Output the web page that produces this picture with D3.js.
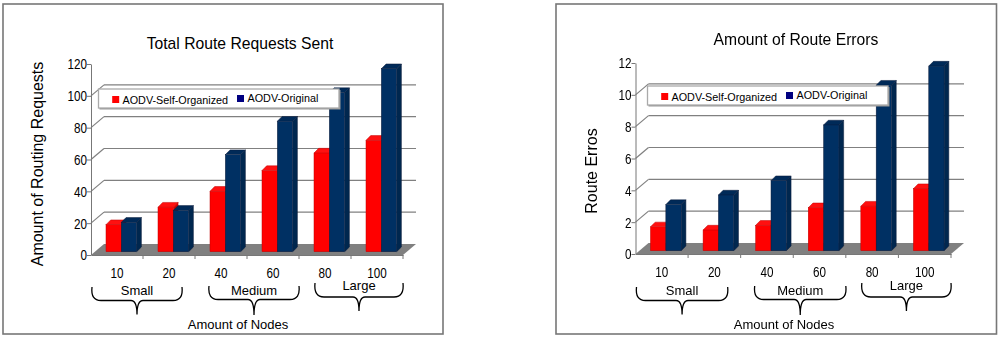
<!DOCTYPE html>
<meta charset="utf-8">
<head>
  <style>
  body { margin: 0; background: #fff; }
  svg { display: block; font-family: "Liberation Sans", sans-serif; filter: blur(0.4px); }
  .axis path, .axis line { stroke: #777; stroke-width: 1; fill: none; }
  .axis text { font-size: 15.5px; fill: #000; font-family: "Liberation Sans", sans-serif; }
  .grid line { stroke: #808080; stroke-width: 1.2; }
  </style>
</head>
<body>
<div id="graph"></div>
<script src="https://d3js.org/d3.v7.min.js"></script>
<script>

var nodeCounts = ["10", "20", "40", "60", "80", "100"];
var seriesNames = ["AODV-Self-Organized", "AODV-Original"];

var requestsSelf = [17, 28, 38, 51, 62, 70];
var requestsOrig = [18.5, 26, 61, 82, 100, 115];
var requestTicks = [0, 20, 40, 60, 80, 100, 120];

var errorsSelf = [1.5, 1.3, 1.6, 2.7, 2.8, 3.9];
var errorsOrig = [2.9, 3.5, 4.4, 7.9, 10.4, 11.6];
var errorTicks = [0, 2, 4, 6, 8, 10, 12];

var sizeNames = ["Small", "Medium", "Large"];
var sizeFirst = ["10", "40", "80"];
var sizeLast = ["20", "60", "100"];

var faceColors = ["#ff0000", "#003063"];
var topColors = ["#ff1010", "#002a58"];
var sideColors = ["#d40000", "#00274f"];
var edgeColors = ["#c00000", "#0a1a3a"];
var swatchColors = ["#ff0000", "#000080"];

var depth = {x: 13, y: 11};     // floor depth
var barDepth = 4.7;
var barLift = 3.3;              // bars stand a bit behind the front edge
var digitWidth = 6.5;           // tick digits are squeezed in the original

var svg = d3.select("#graph").append("svg")
  .attr("width", 1000)
  .attr("height", 338);

function squeeze(sel){
  sel.attr("lengthAdjust", "spacingAndGlyphs")
    .attr("textLength", function(){ return this.textContent.length * digitWidth; });
}

function drawChart(c){
  var g = svg.append("g");

  g.append("rect")
    .attr("x", c.frame[0]).attr("y", 4)
    .attr("width", c.frame[1] - c.frame[0]).attr("height", 330)
    .attr("fill", "#fff").attr("stroke", "#777").attr("stroke-width", 1.6);

  var x = d3.scaleBand().domain(nodeCounts).range([c.left, c.right]);
  var y = d3.scaleLinear().domain([0, c.ticks[c.ticks.length - 1]]).range([c.bottom, c.top]);
  var inner = d3.scaleBand().domain(seriesNames).range([0, 30.7]);
  var barStart = 15;

  // floor
  g.append("path")
    .attr("fill", "#808080")
    .attr("d", d3.line()([
      [c.left, y(0)], [c.right, y(0)],
      [c.right + depth.x, y(0) - depth.y], [c.left + depth.x, y(0) - depth.y]
    ]));

  // back wall + side wall lines
  var grid = g.append("g").attr("class", "grid");
  var gridTicks = c.ticks.slice(1, -1);
  grid.selectAll(".back").data(gridTicks).enter().append("line")
    .attr("x1", c.left + depth.x)
    .attr("x2", c.right + depth.x)
    .attr("y1", function(d){ return y(d) - depth.y; })
    .attr("y2", function(d){ return y(d) - depth.y; });
  grid.selectAll(".side").data(gridTicks).enter().append("line")
    .attr("x1", c.left)
    .attr("x2", c.left + depth.x)
    .attr("y1", function(d){ return y(d); })
    .attr("y2", function(d){ return y(d) - depth.y; });

  // bars
  var rows = [];
  nodeCounts.forEach(function(n, i){
    seriesNames.forEach(function(s, j){
      rows.push({node: n, series: s, idx: j, value: c.values[j][i]});
    });
  });

  var bar = g.selectAll(".bar").data(rows).enter().append("g")
    .attr("class", "bar")
    .attr("transform", function(d){
      return "translate(" + (x(d.node) + barStart + inner(d.series)) + "," + (-barLift) + ")";
    })
    .attr("stroke-width", 0.5)
    .attr("stroke", function(d){ return edgeColors[d.idx]; });

  bar.append("path")
    .attr("fill", function(d){ return sideColors[d.idx]; })
    .attr("d", function(d){
      var w = inner.bandwidth();
      return d3.line()([[w, y(d.value)], [w + barDepth, y(d.value) - barDepth],
        [w + barDepth, y(0) - barDepth], [w, y(0)]]);
    });
  bar.append("path")
    .attr("fill", function(d){ return topColors[d.idx]; })
    .attr("d", function(d){
      var w = inner.bandwidth();
      return d3.line()([[0, y(d.value)], [barDepth, y(d.value) - barDepth],
        [w + barDepth, y(d.value) - barDepth], [w, y(d.value)]]);
    });
  bar.append("rect")
    .attr("fill", function(d){ return faceColors[d.idx]; })
    .attr("width", inner.bandwidth())
    .attr("y", function(d){ return y(d.value); })
    .attr("height", function(d){ return y(0) - y(d.value); });

  // axes
  var yAxis = d3.axisLeft(y).tickValues(c.ticks).tickSize(4).tickSizeOuter(0);
  var yg = g.append("g").attr("class", "axis")
    .attr("transform", "translate(" + c.left + ",0)")
    .call(yAxis);
  yg.selectAll("text").attr("x", -4).call(squeeze);

  var xAxis = d3.axisBottom(x).tickSize(0).tickSizeOuter(0);
  var xg = g.append("g").attr("class", "axis")
    .attr("transform", "translate(0," + y(0) + ")")
    .call(xAxis);
  xg.selectAll("text").attr("y", 22.5).attr("dy", 0).call(squeeze);
  xg.selectAll(".sep").data(nodeCounts).enter().append("line")
    .attr("x1", function(d){ return x(d) + x.bandwidth(); })
    .attr("x2", function(d){ return x(d) + x.bandwidth(); })
    .attr("y1", 0).attr("y2", 4);

  // brackets under the node counts
  var braceInset = [[1, -13], [14, 0], [16, 0]];
  var braceY = [[287, 300.5, 314.5], [286, 299.5, 315], [283, 297, 311]];
  var labelY = [295, 295, 290];
  sizeNames.forEach(function(name, i){
    var x0 = x(sizeFirst[i]) + braceInset[i][0];
    var x1 = x(sizeLast[i]) + x.bandwidth() + braceInset[i][1];
    var cx = (x0 + x1) / 2;
    var top = braceY[i][0], mid = braceY[i][1], tip = braceY[i][2];
    g.append("path")
      .attr("fill", "none")
      .attr("stroke", "#000")
      .attr("stroke-width", 1.3)
      .attr("d", "M" + x0 + "," + top +
        "C" + (x0 - 1) + "," + (top + 9) + " " + (x0 + 2) + "," + mid + " " + (x0 + 9) + "," + mid +
        "L" + (cx - 6) + "," + mid +
        "C" + (cx - 2) + "," + mid + " " + cx + "," + (mid + 4) + " " + cx + "," + tip +
        "C" + cx + "," + (mid + 4) + " " + (cx + 2) + "," + mid + " " + (cx + 6) + "," + mid +
        "L" + (x1 - 9) + "," + mid +
        "C" + (x1 - 2) + "," + mid + " " + (x1 + 1) + "," + (top + 9) + " " + x1 + "," + top);
    g.append("text")
      .attr("x", cx).attr("y", labelY[i])
      .attr("text-anchor", "middle")
      .attr("font-size", 13).attr("fill", "#000")
      .text(name);
  });

  g.append("text")
    .attr("x", c.nodesX).attr("y", 329)
    .attr("text-anchor", "middle")
    .attr("font-size", 13).attr("fill", "#000")
    .text("Amount of Nodes");

  g.append("text")
    .attr("x", c.titleX).attr("y", c.titleY)
    .attr("text-anchor", "middle")
    .attr("font-size", 15.7).attr("fill", "#000")
    .text(c.title);

  g.append("text")
    .attr("transform", "translate(" + c.yTitle[0] + "," + c.yTitle[1] + ") rotate(-90)")
    .attr("text-anchor", "middle")
    .attr("font-size", 16).attr("fill", "#000")
    .text(c.yLabel);

  // legend sits on top of the bars
  var lg = g.append("g").attr("transform", "translate(" + c.legend[0] + "," + c.legend[1] + ")");
  lg.append("rect")
    .attr("x", 1).attr("y", 1).attr("width", 241).attr("height", 19.5)
    .attr("fill", "#999");
  lg.append("rect")
    .attr("width", 240.5).attr("height", 19)
    .attr("fill", "#fff").attr("stroke", "#aaa").attr("stroke-width", 1.3);
  var legendX = [[13.7, 24], [138.5, 149]];
  var legendY = [[7, 15], [6, 13]];
  seriesNames.forEach(function(s, i){
    lg.append("rect")
      .attr("x", legendX[i][0]).attr("y", legendY[i][0])
      .attr("width", 7).attr("height", 7)
      .attr("fill", swatchColors[i]);
    lg.append("text")
      .attr("x", legendX[i][1]).attr("y", legendY[i][1])
      .attr("font-size", 10.8).attr("fill", "#000")
      .text(s);
  });
}

drawChart({
  frame: [3, 443],
  left: 91, right: 403, bottom: 255, top: 64,
  ticks: requestTicks,
  values: [requestsSelf, requestsOrig],
  title: "Total Route Requests Sent",
  titleX: 240, titleY: 49,
  yLabel: "Amount of Routing Requests",
  yTitle: [43, 164],
  nodesX: 238,
  legend: [98.5, 89]
});

drawChart({
  frame: [556, 996.5],
  left: 635.5, right: 951, bottom: 254, top: 63,
  ticks: errorTicks,
  values: [errorsSelf, errorsOrig],
  title: "Amount of Route Errors",
  titleX: 796, titleY: 45,
  yLabel: "Route Erros",
  yTitle: [597, 171],
  nodesX: 784,
  legend: [647.5, 86]
});

</script>
</body>
